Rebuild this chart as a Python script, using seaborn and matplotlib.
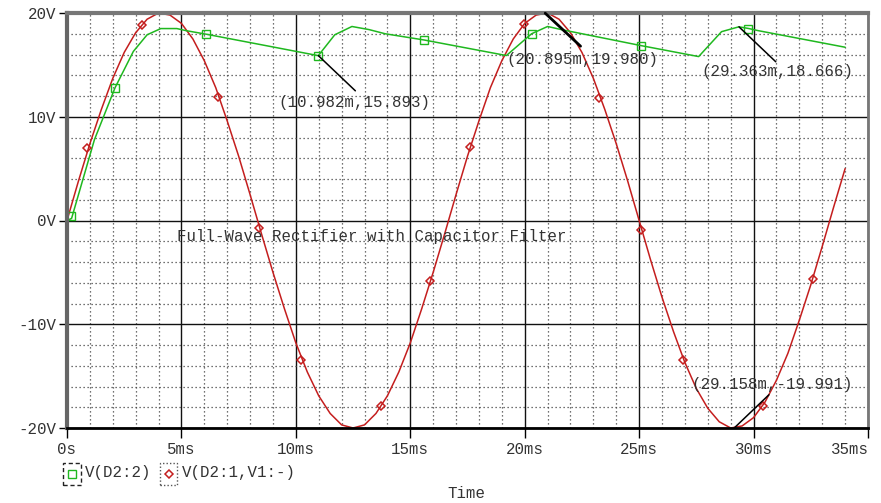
import numpy as np
import pandas as pd
import matplotlib
matplotlib.use("Agg")
import matplotlib.pyplot as plt
from matplotlib.patches import Rectangle
from matplotlib.lines import Line2D
import matplotlib.transforms as mtransforms
import seaborn as sns

# ---------------- data (time in ms, voltage in V) ----------------
t_src = [0.0, 0.5, 1.0, 1.5, 2.0, 2.5, 3.0, 3.5, 4.0, 4.5, 5.0, 5.5, 6.0, 6.5,
         7.0, 7.5, 8.0, 8.5, 9.0, 9.5, 10.0, 10.5, 11.0, 11.5, 12.0, 12.5,
         13.0, 13.5, 14.0, 14.5, 15.0, 15.5, 16.0, 16.5, 17.0, 17.5, 18.0,
         18.5, 19.0, 19.5, 20.0, 20.5, 21.0, 21.5, 22.0, 22.5, 23.0, 23.5,
         24.0, 24.5, 25.0, 25.5, 26.0, 26.5, 27.0, 27.5, 28.0, 28.5, 29.0,
         29.5, 30.0, 30.5, 31.0, 31.5, 32.0, 32.5, 33.0, 33.5, 34.0]
v_src = [0.0, 3.8, 7.4, 10.7, 13.7, 16.2, 18.1, 19.4, 20.0, 19.8, 19.0, 17.5,
         15.4, 12.8, 9.6, 6.2, 2.5, -1.3, -5.0, -8.5, -11.8, -14.6, -16.9,
         -18.6, -19.7, -20.0, -19.7, -18.6, -16.9, -14.6, -11.8, -8.5, -5.0,
         -1.3, 2.5, 6.2, 9.6, 12.8, 15.4, 17.5, 19.0, 19.8, 20.0, 19.4, 18.1,
         16.2, 13.7, 10.7, 7.4, 3.8, 0.0, -3.8, -7.4, -10.7, -13.7, -16.2,
         -18.1, -19.4, -20.0, -19.8, -19.0, -17.5, -15.4, -12.8, -9.6, -6.2,
         -2.5, 1.3, 5.0]

t_out = [0.0, 0.2, 1.2, 2.1, 2.9, 3.5, 4.1, 4.8, 5.2, 6.1, 10.98, 11.7, 12.45,
         13.2, 13.9, 15.6, 19.2, 20.3, 21.0, 21.6, 25.1, 27.6, 28.6, 29.36,
         29.8, 30.2, 34.0]
v_out = [0.0, 0.2, 7.8, 12.8, 16.3, 17.9, 18.5, 18.5, 18.3, 17.95, 15.89, 17.9,
         18.7, 18.4, 18.0, 17.4, 15.9, 18.0, 18.7, 18.4, 16.85, 15.8, 18.2,
         18.67, 18.5, 18.3, 16.7]

mk_out_t = [0.17, 2.1, 6.07, 10.98, 15.6, 20.3, 25.1, 29.77]
mk_out_v = [0.4, 12.8, 17.95, 15.89, 17.4, 18.0, 16.85, 18.5]

mk_src_t = [0.89, 3.27, 6.59, 8.37, 10.24, 13.72, 15.88, 17.63, 19.99, 23.24,
            25.07, 26.93, 30.42, 32.58]
mk_src_v = [6.95, 18.8, 11.9, -0.74, -13.4, -17.9, -5.8, 7.1, 18.97, 11.8,
            -0.87, -13.46, -17.9, -5.6]

# cursor annotations
cursor_pt_t = [10.982, 20.895, 29.363, 29.158]
cursor_pt_v = [15.893, 19.980, 18.666, -19.991]
cursor_end_t = [12.6, 22.44, 30.97, 30.67]
cursor_end_v = [12.5, 16.8, 15.3, -16.8]
cursor_labels = ["(10.982m,15.893)", "(20.895m,19.980)", "(29.363m,18.666)",
                 "(29.158m,-19.991)"]
cursor_lab_t = [9.25, 19.22, 27.7, 27.3]
cursor_lab_v = [11.4, 15.5, 14.35, -15.8]

xticks = [0, 5, 10, 15, 20, 25, 30, 35]
xtick_labels = ["0s", "5ms", "10ms", "15ms", "20ms", "25ms", "30ms", "35ms"]
yticks = [-20, -10, 0, 10, 20]
ytick_labels = ["-20V", "-10V", "0V", "10V", "20V"]

legend_labels = ["V(D2:2)", "V(D2:1,V1:-)"]
plot_title = "Full-Wave Rectifier with Capacitor Filter"
x_label = "Time"

# ---------------- style ----------------
sns.set_theme(style="white")
plt.rcParams["font.family"] = ["Liberation Mono", "DejaVu Sans Mono"]
TXT = "#333333"
RED = "#c41e1e"
GREEN = "#1fb81f"
FS = 11.3

fig = plt.figure(figsize=(8.81, 5.03), dpi=100)
ax = fig.add_axes([67 / 881, 1 - 428 / 503, (868 - 67) / 881, (428 - 13) / 503])

df_src = pd.DataFrame({"t": t_src, "v": v_src})
df_out = pd.DataFrame({"t": t_out, "v": v_out})

ax.set_xlim(0, 35)
ax.set_ylim(-20, 20)

# grid
ax.set_xticks(xticks)
ax.set_xticks(np.arange(0, 36, 1), minor=True)
ax.set_yticks(yticks)
ax.set_yticks(np.arange(-20, 21, 2), minor=True)
ax.grid(which="minor", color="#444444", linestyle=(0, (1, 2.2)), linewidth=0.9)
ax.grid(which="major", color="#111111", linestyle="-", linewidth=1.0)
ax.set_axisbelow(True)

sns.lineplot(data=df_src, x="t", y="v", ax=ax, color=RED, linewidth=1.1,
             sort=False, estimator=None, legend=False)
sns.lineplot(data=df_out, x="t", y="v", ax=ax, color=GREEN, linewidth=1.1,
             sort=False, estimator=None, legend=False)

ax.plot(mk_src_t, mk_src_v, linestyle="none", marker="D", markersize=4.2,
        markerfacecolor="none", markeredgecolor=RED, markeredgewidth=1.1)
ax.plot(mk_out_t, mk_out_v, linestyle="none", marker="s", markersize=6,
        markerfacecolor="none", markeredgecolor=GREEN, markeredgewidth=1.0)

for i in range(len(cursor_labels)):
    lw = 2.0 if i == 1 else 1.1
    ax.annotate("", xy=(cursor_pt_t[i], cursor_pt_v[i]),
                xytext=(cursor_end_t[i], cursor_end_v[i]),
                arrowprops=dict(arrowstyle="-", color="black", lw=lw,
                                shrinkA=0, shrinkB=0))
    ax.text(cursor_lab_t[i], cursor_lab_v[i], cursor_labels[i], fontsize=FS,
            color=TXT, ha="left", va="center")

ax.text(4.8, -1.55, plot_title, fontsize=FS, color=TXT, ha="left", va="center")

# ticks
ax.set_xticklabels(xtick_labels)
ax.set_yticklabels(ytick_labels)
ax.tick_params(axis="x", which="major", direction="out", length=7, width=1,
               color="black", labelsize=FS, labelcolor=TXT, pad=3, bottom=True)
ax.tick_params(axis="y", which="major", direction="out", length=6, width=1,
               color="black", labelsize=FS, labelcolor=TXT, pad=2, left=True)
ax.tick_params(which="minor", length=0)
ax.set_xlabel("")
ax.set_ylabel("")

# last x tick label shifted left so it stays inside the picture
last = ax.get_xticklabels()[-1]
last.set_horizontalalignment("right")
last.set_transform(last.get_transform() +
                   mtransforms.ScaledTranslation(1 / 100, 0, fig.dpi_scale_trans))

# spines
ax.spines["top"].set_color("#777777")
ax.spines["top"].set_linewidth(3)
ax.spines["right"].set_color("#777777")
ax.spines["right"].set_linewidth(2)
ax.spines["bottom"].set_color("black")
ax.spines["bottom"].set_linewidth(2)
ax.spines["left"].set_color("#666666")
ax.spines["left"].set_linewidth(3)
ax.spines["left"].set_linestyle((0, (2, 1)))
for s in ax.spines.values():
    s.set_visible(True)

# legend (custom, below axes)
def px(x, y):
    return x / 881, 1 - y / 503

x0, y0 = px(63, 485)
fig.patches.append(Rectangle((x0, y0), 18 / 881, 22 / 503, transform=fig.transFigure,
                             fill=False, edgecolor="#222222", linestyle=(0, (3, 2)),
                             linewidth=1.0))
fig.lines.append(Line2D([72 / 881], [1 - 474 / 503], transform=fig.transFigure,
                        marker="s", markersize=6, markerfacecolor="none",
                        markeredgecolor=GREEN, markeredgewidth=1.0))
fig.text(85 / 881, 1 - 472 / 503, legend_labels[0], fontsize=FS, color=TXT,
         ha="left", va="center")

x1, y1 = px(160, 485)
fig.patches.append(Rectangle((x1, y1), 17 / 881, 22 / 503, transform=fig.transFigure,
                             fill=False, edgecolor="#555555", linestyle=(0, (1, 1.5)),
                             linewidth=1.0))
fig.lines.append(Line2D([168.5 / 881], [1 - 474 / 503], transform=fig.transFigure,
                        marker="D", markersize=4.2, markerfacecolor="none",
                        markeredgecolor=RED, markeredgewidth=1.1))
fig.text(182 / 881, 1 - 472 / 503, legend_labels[1], fontsize=FS, color=TXT,
         ha="left", va="center")

fig.text(466 / 881, 1 - 494 / 503, x_label, fontsize=FS, color=TXT,
         ha="center", va="center")

fig.savefig("out.png", dpi=100, facecolor="white")
